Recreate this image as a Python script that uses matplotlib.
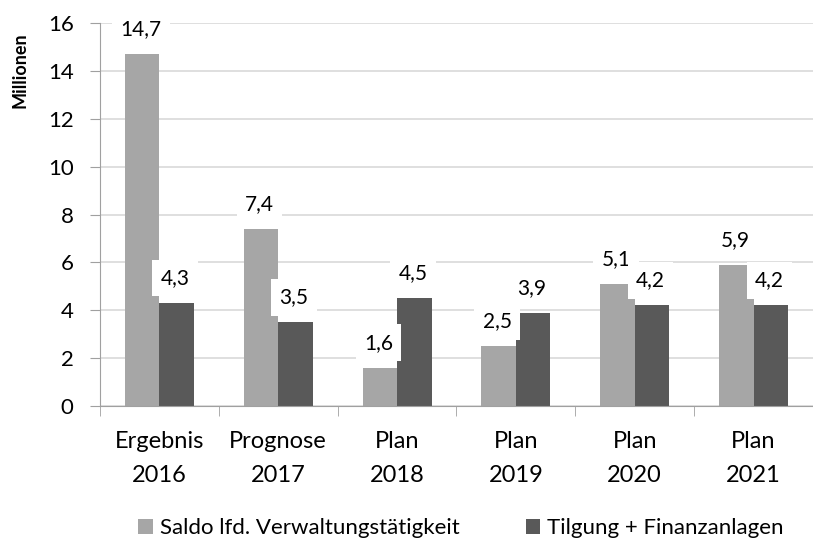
import matplotlib.pyplot as plt
import numpy as np

plt.rcParams['font.family'] = ['Lato', 'DejaVu Sans']

# Data
categories = ['Ergebnis\n2016', 'Prognose\n2017', 'Plan\n2018', 'Plan\n2019', 'Plan\n2020', 'Plan\n2021']
saldo = [14.7, 7.4, 1.6, 2.5, 5.1, 5.9]
tilgung = [4.3, 3.5, 4.5, 3.9, 4.2, 4.2]
series_names = ['Saldo lfd. Verwaltungstätigkeit', 'Tilgung + Finanzanlagen']

light = '#a6a6a6'
dark = '#595959'
bar_width = 0.29
index = np.arange(len(categories))

fig = plt.figure(figsize=(8.13, 5.41), dpi=100)
ax = fig.add_axes([0.123, 0.2495, 0.877, 0.708])

b1 = ax.bar(index - bar_width / 2, saldo, bar_width, color=light, label=series_names[0], zorder=2)
b2 = ax.bar(index + bar_width / 2, tilgung, bar_width, color=dark, label=series_names[1], zorder=2)

# value labels with white boxes, German decimal comma
for bars, vals in [(b1, saldo), (b2, tilgung)]:
    for rect, v in zip(bars, vals):
        x = rect.get_x() + rect.get_width() / 2
        ax.annotate(f'{v:.1f}'.replace('.', ','), (x, v), xytext=(-1, 18),
                    textcoords='offset points', ha='center', va='center',
                    fontsize=15, zorder=3,
                    bbox=dict(boxstyle='square,pad=0.4', fc='white', ec='none'))

ax.set_xlim(-0.5, len(categories) - 0.5)
ax.set_ylim(0, 16)
ax.set_yticks(range(0, 17, 2))
ax.yaxis.grid(True, color='#d9d9d9', linewidth=1.2, zorder=0)
ax.set_axisbelow(True)

ax.set_xticks(index)
ax.set_xticklabels(categories, fontsize=17, linespacing=1.75)
ax.set_xticks(np.arange(len(categories) + 1) - 0.5, minor=True)
ax.tick_params(axis='x', which='major', length=0, pad=18)
ax.tick_params(axis='x', which='minor', length=7, color='#a0a0a0', direction='out')
ax.tick_params(axis='y', labelsize=16, length=7, color='#a0a0a0', pad=12)

for s in ['top', 'right']:
    ax.spines[s].set_visible(False)
for s in ['left', 'bottom']:
    ax.spines[s].set_color('#a0a0a0')

fig.text(0.024, 0.87, 'Millionen', rotation=90, fontsize=13, fontweight='bold',
         ha='center', va='center')

fig.legend(loc='center', bbox_to_anchor=(0.567, 0.024), ncol=2, frameon=False,
           fontsize=16, handlelength=0.65, handleheight=0.65, handletextpad=0.3,
           columnspacing=3.0, borderpad=0)

fig.savefig('out.png', dpi=100)
